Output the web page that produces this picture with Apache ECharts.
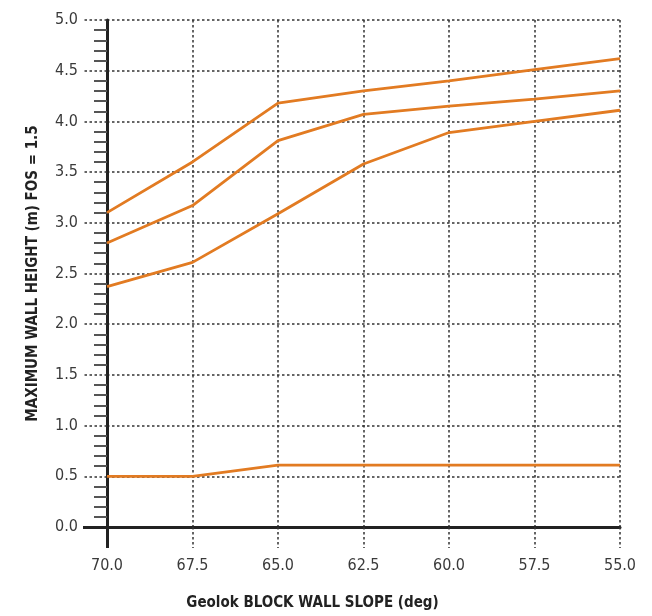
<!DOCTYPE html>
<html>
<head>
<meta charset="utf-8">
<script src="https://cdn.jsdelivr.net/npm/echarts@6/dist/echarts.min.js"></script>
<style>
html,body{margin:0;padding:0;background:#fff;}
#chart{width:652px;height:616px;}
</style>
</head>
<body>
<div id="chart"></div>
<script>
const categories = ['70.0','67.5','65.0','62.5','60.0','57.5','55.0'];
const series1 = [3.10, 3.60, 4.18, 4.30, 4.40, 4.51, 4.62];
const series2 = [2.80, 3.17, 3.81, 4.07, 4.15, 4.22, 4.30];
const series3 = [2.37, 2.61, 3.09, 3.58, 3.89, 4.00, 4.11];
const series4 = [0.50, 0.50, 0.61, 0.61, 0.61, 0.61, 0.61];
const xAxisTitle = 'Geolok BLOCK WALL SLOPE (deg)';
const yAxisTitle = 'MAXIMUM WALL HEIGHT (m) FOS = 1.5';

const FONT = '"Liberation Sans Narrow", "DejaVu Sans Condensed", "Liberation Sans", sans-serif';
const ORANGE = '#e27b22';
const DOT = {color:'#333', width:1.5, type:[2.5,2.5]};

const chart = echarts.init(document.getElementById('chart'), null, {renderer:'canvas'});
const mk = (d) => ({type:'line', data:d, xAxisIndex:0, yAxisIndex:0, showSymbol:false, symbol:'none',
  lineStyle:{color:ORANGE, width:2.8}, itemStyle:{color:ORANGE}, silent:true, animation:false});
chart.setOption({
  animation:false,
  grid:{left:107, right:32, top:20, bottom:89, containLabel:false},
  xAxis:[{
    type:'category', data:categories, boundaryGap:false, position:'bottom',
    axisLine:{show:true, lineStyle:{color:'#222', width:3}},
    axisTick:{show:true, length:21, alignWithLabel:true, lineStyle:DOT},
    splitLine:{show:true, lineStyle:DOT},
    axisLabel:{color:'#3a3a3a', fontFamily:FONT, fontSize:16, margin:31},
    name:xAxisTitle, nameLocation:'middle', nameGap:69,
    nameTextStyle:{fontFamily:FONT, fontWeight:'bold', fontSize:15, color:'#222', padding:[0,102,0,0]}
  },{
    type:'category', data:categories, boundaryGap:false, position:'bottom',
    axisLine:{show:false},
    axisTick:{show:true, length:21, interval:function(i){return i===0;}, lineStyle:{color:'#222', width:3}},
    axisLabel:{show:false}, splitLine:{show:false}
  }],
  yAxis:[{
    type:'value', min:0, max:5, interval:0.5, position:'left',
    axisLine:{show:true, lineStyle:{color:'#222', width:3}},
    axisTick:{show:true, length:24, lineStyle:DOT},
    minorTick:{show:true, splitNumber:5, length:13, lineStyle:{color:'#555', width:2}},
    splitLine:{show:true, lineStyle:DOT},
    axisLabel:{color:'#3a3a3a', fontFamily:FONT, fontSize:16, margin:29, formatter:(v)=>v.toFixed(1)},
    name:yAxisTitle, nameLocation:'middle', nameGap:66, nameRotate:90,
    nameTextStyle:{fontFamily:FONT, fontWeight:'bold', fontSize:15, color:'#222'}
  },{
    type:'category', data:['0','5'], boundaryGap:false, position:'left',
    axisLine:{show:false},
    axisTick:{show:true, length:24, interval:function(i){return i===0;}, lineStyle:{color:'#222', width:3}},
    axisLabel:{show:false}, splitLine:{show:false}
  }],
  series:[mk(series1), mk(series2), mk(series3), mk(series4)]
});
</script>
</body>
</html>
